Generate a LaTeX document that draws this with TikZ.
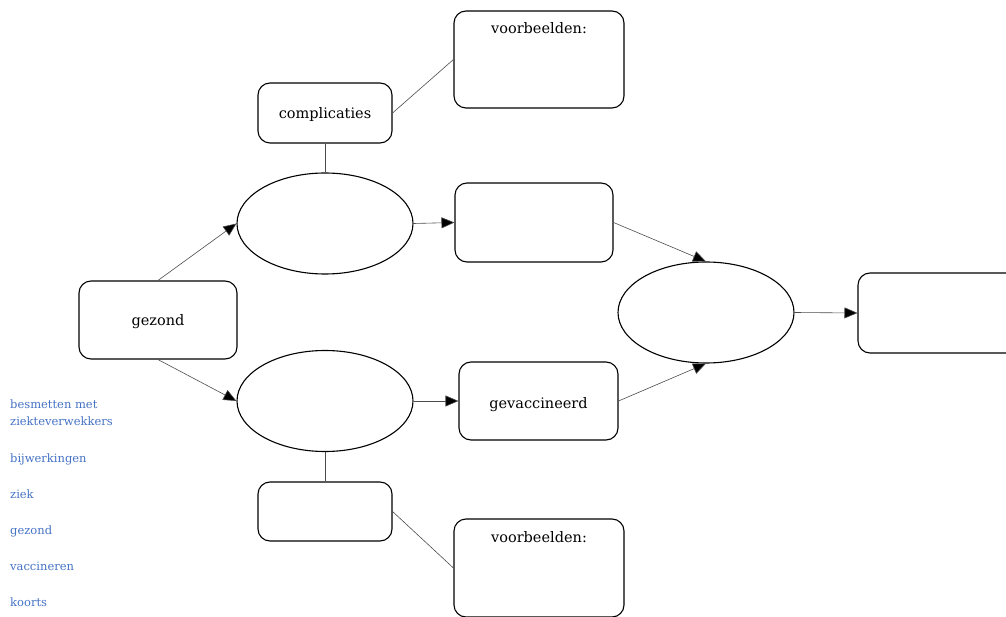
\documentclass[tikz,border=0pt]{standalone}
\usepackage{fontspec}
\setmainfont{DejaVu Serif}
\usetikzlibrary{shapes.geometric,arrows.meta}
\definecolor{listblue}{HTML}{4472C4}
\tikzset{
  rbox/.style={draw=black,line width=1.1pt,rounded corners=12pt,inner sep=0pt,font=\fontsize{14.5}{17}\selectfont},
  oval/.style={draw=black,line width=1.1pt,ellipse,inner sep=0pt,minimum width=176pt,minimum height=101pt},
  conn/.style={draw=black!70,line width=0.6pt},
  arr/.style={conn,-{Triangle[length=13pt,width=11pt,fill=black]}},
  lbl/.style={font=\fontsize{14.5}{17}\selectfont,anchor=base,inner sep=0pt},
  listtxt/.style={anchor=base west,text=listblue,inner sep=0pt,font=\fontsize{11.5}{14}\selectfont,align=left}
}
\begin{document}
\begin{tikzpicture}[x=1pt,y=-1pt]
\useasboundingbox (0,0) rectangle (1006,617);
\clip (0,0) rectangle (1006,617);
% boxes
\node[rbox,minimum width=170pt,minimum height=97pt] (vb1) at (539,59.5) {};
\node[lbl] (vb1t) at (539,34) {voorbeelden:};
\node[rbox,minimum width=134pt,minimum height=60pt] (comp) at (325,113) {};
\node[lbl] (compt) at (325,119) {complicaties};
\node[oval] (e1) at (325,223.5) {};
\node[rbox,minimum width=158pt,minimum height=79pt] (mid1) at (534,222.5) {};
\node[rbox,minimum width=158pt,minimum height=78pt] (gez) at (158,320) {};
\node[lbl] (gezt) at (158,326) {gezond};
\node[oval] (e2) at (325,401) {};
\node[rbox,minimum width=159pt,minimum height=78pt] (gev) at (538.5,401) {};
\node[lbl] (gevt) at (538.5,408) {gevaccineerd};
\node[oval] (e3) at (706,312.5) {};
\node[rbox,minimum width=160pt,minimum height=80pt] (res) at (938,313) {};
\node[rbox,minimum width=134pt,minimum height=59pt] (bot) at (325,511.5) {};
\node[rbox,minimum width=170pt,minimum height=98pt] (vb2) at (539,568) {};
\node[lbl] (vb2t) at (539,542) {voorbeelden:};
% connectors
\draw[conn] (comp.east) -- (vb1.west);
\draw[conn] (comp.south) -- (e1.north);
\draw[arr] (gez.north) -- (e1.west);
\draw[arr] (gez.south) -- (e2.west);
\draw[arr] (e1.east) -- (mid1.west);
\draw[arr] (e2.east) -- (gev.west);
\draw[arr] (mid1.east) -- (e3.north);
\draw[arr] (gev.east) -- (e3.south);
\draw[arr] (e3.east) -- (res.west);
\draw[conn] (e2.south) -- (bot.north);
\draw[conn] (bot.east) -- (vb2.west);
% word list
\node[listtxt] (w1) at (10,408) {besmetten met};
\node[listtxt] (w1b) at (10,425) {ziekteverwekkers};
\node[listtxt] (w2) at (10,462) {bijwerkingen};
\node[listtxt] (w3) at (10,498) {ziek};
\node[listtxt] (w4) at (10,534) {gezond};
\node[listtxt] (w5) at (10,570) {vaccineren};
\node[listtxt] (w6) at (10,606) {koorts};
\end{tikzpicture}
\end{document}
